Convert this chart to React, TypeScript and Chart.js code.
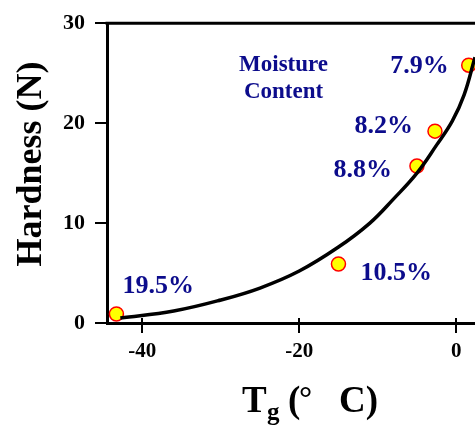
import { useEffect, useRef } from 'react';
import { Chart, registerables } from 'chart.js';

Chart.register(...registerables);

// Measured points (glass transition temperature vs hardness), labelled by moisture content
const moistureLabels = ['19.5%', '10.5%', '8.8%', '8.2%', '7.9%'];
const tgValues = [-43.3, -15.0, -5.0, -2.7, 1.6];
const hardnessValues = [0.9, 5.9, 15.7, 19.2, 25.8];

// Trend curve
const curveTg = [-42.8, -36, -30, -25, -20, -15, -11, -8, -5, -2.5, -0.5, 1.0, 2.4];
const curveHardness = [0.5, 1.2, 2.3, 3.5, 5.2, 7.6, 10.0, 12.4, 15.0, 17.8, 20.2, 22.8, 26.6];

// Axis ticks
const xTicks = [-40, -20, 0];
const yTicks = [0, 10, 20, 30];

const SERIF = '"Liberation Serif", "Times New Roman", serif';
const NAVY = '#0c0c8c';

export default function App() {
  const ref = useRef<HTMLCanvasElement | null>(null);

  useEffect(() => {
    document.body.style.margin = '0';
    const canvas = ref.current;
    if (!canvas) return;

    const labelOffsets = [
      { dx: 6, dy: -21, align: 'left' },
      { dx: 22, dy: 16, align: 'left' },
      { dx: -25, dy: 11, align: 'right' },
      { dx: -22, dy: 2, align: 'right' },
      { dx: -20, dy: 8, align: 'right' },
    ];

    const annotations = {
      id: 'annotations',
      afterDatasetsDraw(chart: any) {
        const ctx = chart.ctx as CanvasRenderingContext2D;
        const xs = chart.scales.x;
        const ys = chart.scales.y;
        const ca = chart.chartArea;
        ctx.save();
        // top frame line
        ctx.strokeStyle = '#000';
        ctx.lineWidth = 3;
        ctx.beginPath();
        ctx.moveTo(ca.left - 1.5, ca.top);
        ctx.lineTo(ca.right, ca.top);
        ctx.stroke();
        // inward part of x tick marks
        ctx.lineWidth = 2;
        xTicks.forEach((v) => {
          const px = Math.round(xs.getPixelForValue(v));
          ctx.beginPath();
          ctx.moveTo(px, ca.bottom - 5);
          ctx.lineTo(px, ca.bottom);
          ctx.stroke();
        });
        // point labels
        ctx.fillStyle = NAVY;
        ctx.textBaseline = 'alphabetic';
        ctx.font = `bold 26px ${SERIF}`;
        moistureLabels.forEach((t, i) => {
          const px = xs.getPixelForValue(tgValues[i]);
          const py = ys.getPixelForValue(hardnessValues[i]);
          const o = labelOffsets[i];
          ctx.textAlign = o.align as CanvasTextAlign;
          ctx.fillText(t, px + o.dx, py + o.dy);
        });
        ctx.font = `bold 23px ${SERIF}`;
        ctx.textAlign = 'center';
        ctx.fillText('Moisture', xs.getPixelForValue(-22), ys.getPixelForValue(25.2));
        ctx.fillText('Content', xs.getPixelForValue(-22), ys.getPixelForValue(22.5));
        // y axis title
        ctx.fillStyle = '#000';
        ctx.save();
        ctx.translate(32, 164);
        ctx.rotate(-Math.PI / 2);
        ctx.textAlign = 'center';
        ctx.textBaseline = 'middle';
        ctx.font = `bold 36px ${SERIF}`;
        ctx.fillText('Hardness (N)', 0, 0);
        ctx.restore();
        // x axis title: T_g (° C)
        ctx.textAlign = 'left';
        ctx.textBaseline = 'alphabetic';
        const base = 412;
        ctx.font = `bold 37px ${SERIF}`;
        ctx.fillText('T', 242, base);
        ctx.font = `bold 25px ${SERIF}`;
        ctx.fillText('g', 267, base + 8);
        ctx.font = `bold 37px ${SERIF}`;
        ctx.fillText('(', 288, base);
        ctx.font = `bold 33px ${SERIF}`;
        ctx.fillText('°', 299, base - 3);
        ctx.font = `bold 37px ${SERIF}`;
        ctx.fillText('C)', 339, base);
        ctx.restore();
      },
    };

    const chart = new Chart(canvas, {
      type: 'scatter',
      data: {
        datasets: [
          {
            type: 'line',
            data: curveTg.map((x, i) => ({ x, y: curveHardness[i] })),
            borderColor: '#000',
            borderWidth: 3.5,
            pointRadius: 0,
            fill: false,
            tension: 0.4,
          },
          {
            type: 'scatter',
            data: tgValues.map((x, i) => ({ x, y: hardnessValues[i] })),
            backgroundColor: '#ffff00',
            borderColor: '#ff0000',
            borderWidth: 1.5,
            pointRadius: 7,
          },
        ],
      },
      options: {
        responsive: false,
        animation: false,
        layout: { autoPadding: false, padding: { top: 16, right: 0, left: 0, bottom: 0 } },
        plugins: { legend: { display: false }, tooltip: { enabled: false } },
        scales: {
          x: {
            type: 'linear',
            min: -44.5,
            max: 2.4,
            afterFit(scale: any) {
              scale.height = 102;
            },
            afterBuildTicks(scale: any) {
              scale.ticks = xTicks.map((v) => ({ value: v }));
            },
            ticks: {
              includeBounds: false,
              stepSize: 20,
              padding: 6,
              color: '#000',
              font: { family: SERIF, size: 21, weight: 'bold' },
            },
            grid: {
              display: true,
              drawOnChartArea: false,
              drawTicks: true,
              tickLength: 10,
              color: '#000',
              lineWidth: 2,
            },
            border: { display: true, color: '#000', width: 3 },
          },
          y: {
            type: 'linear',
            min: 0,
            max: 30,
            afterFit(scale: any) {
              scale.width = 107;
            },
            afterBuildTicks(scale: any) {
              scale.ticks = yTicks.map((v) => ({ value: v }));
            },
            ticks: {
              stepSize: 10,
              padding: 10,
              color: '#000',
              font: { family: SERIF, size: 22, weight: 'bold' },
            },
            grid: {
              display: true,
              drawOnChartArea: false,
              drawTicks: true,
              tickLength: 12,
              color: '#000',
              lineWidth: 2,
            },
            border: { display: true, color: '#000', width: 3 },
          },
        },
      },
      plugins: [annotations],
    });

    return () => chart.destroy();
  }, []);

  return <canvas ref={ref} width={475} height={425} style={{ display: 'block' }} />;
}
